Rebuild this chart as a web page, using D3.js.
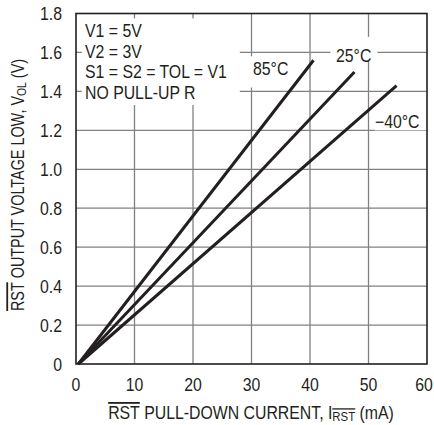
<!DOCTYPE html>
<html>
<head>
<meta charset="utf-8">
<script src="https://cdn.jsdelivr.net/npm/d3@7"></script>
<style>
  body { margin: 0; background: #fff; }
  text { font-family: "Liberation Sans", Arial, sans-serif; fill: #231f20; }
</style>
</head>
<body>
<svg id="chart" width="434" height="425"></svg>
<script>
// curves: straight lines from near origin to end point
const temps = ["85°C", "25°C", "\u221240°C"];
const startCurrent = [0.4, 0.4, 0.4];
const endCurrent = [40.6, 47.6, 54.8];
const endVoltage = [1.56, 1.50, 1.43];

const xTicks = [0, 10, 20, 30, 40, 50, 60];
const yTicks = [0, 0.2, 0.4, 0.6, 0.8, 1.0, 1.2, 1.4, 1.6, 1.8];
const yTickLabels = ["0", "0.2", "0.4", "0.6", "0.8", "1.0", "1.2", "1.4", "1.6", "1.8"];
const notes = ["V1 = 5V", "V2 = 3V", "S1 = S2 = TOL = V1", "NO PULL-UP R"];

const svg = d3.select("#chart");
const x = d3.scaleLinear().domain([0, 60]).range([76, 427]);
const y = d3.scaleLinear().domain([0, 1.8]).range([364, 13.5]);
const squeeze = 0.88; // font in the original is condensed

// grid
svg.append("g").selectAll("line").data(xTicks.slice(1, -1)).join("line")
  .attr("x1", d => x(d)).attr("x2", d => x(d))
  .attr("y1", y(0)).attr("y2", y(1.8))
  .attr("stroke", "#808080").attr("stroke-width", 1.3);
svg.append("g").selectAll("line").data(yTicks.slice(1, -1)).join("line")
  .attr("x1", x(0)).attr("x2", x(60))
  .attr("y1", d => y(d)).attr("y2", d => y(d))
  .attr("stroke", "#808080").attr("stroke-width", 1.3);

// white boxes behind the annotations
const boxes = [
  [1.0, 28, 1.33, 1.775],
  [29.3, 36.6, 1.42, 1.58],
  [43.5, 51.5, 1.56, 1.68],
  [51, 60, 1.2, 1.32]
];
svg.append("g").selectAll("rect").data(boxes).join("rect")
  .attr("x", d => x(d[0])).attr("width", d => x(d[1]) - x(d[0]))
  .attr("y", d => y(d[3])).attr("height", d => y(d[2]) - y(d[3]))
  .attr("fill", "#fff");

// frame
svg.append("rect")
  .attr("x", x(0)).attr("y", y(1.8))
  .attr("width", x(60) - x(0)).attr("height", y(0) - y(1.8))
  .attr("fill", "none").attr("stroke", "#231f20").attr("stroke-width", 1.6);

// curves
const line = d3.line().x(d => x(d[0])).y(d => y(d[1]));
svg.append("g").selectAll("path").data(temps).join("path")
  .attr("d", (d, i) => line([[startCurrent[i], 0], [endCurrent[i], endVoltage[i]]]))
  .attr("fill", "none").attr("stroke", "#231f20").attr("stroke-width", 3);

// curve labels
const labelPos = [[30.26, 1.484], [44.44, 1.551], [51.1, 1.212]];
svg.append("g").selectAll("text").data(temps).join("text")
  .attr("transform", (d, i) => `translate(${x(labelPos[i][0])},${y(labelPos[i][1])}) scale(${squeeze},1)`)
  .attr("font-size", 18).text(d => d);

// notes
svg.append("g").selectAll("text").data(notes).join("text")
  .attr("transform", (d, i) => `translate(85,${37 + i * 20.7}) scale(${squeeze},1)`)
  .attr("font-size", 18).text(d => d);

// axes tick labels
svg.append("g").selectAll("text").data(xTicks).join("text")
  .attr("transform", (d, i) => `translate(${x(d) - (i === xTicks.length - 1 ? 3 : 0)},391) scale(${squeeze},1)`)
  .attr("text-anchor", "middle").attr("font-size", 18).text(d => d);
svg.append("g").selectAll("text").data(yTicks).join("text")
  .attr("transform", d => `translate(62,${y(d) + 6.5}) scale(${squeeze},1)`)
  .attr("text-anchor", "end").attr("font-size", 18).text((d, i) => yTickLabels[i]);

// axis titles
const xt = svg.append("text").attr("transform", `translate(251,419) scale(${squeeze},1)`)
  .attr("text-anchor", "middle").attr("font-size", 18);
xt.append("tspan").style("text-decoration", "overline").text("RST");
xt.append("tspan").text(" PULL-DOWN CURRENT, I");
xt.append("tspan").attr("font-size", 13).attr("dy", 2).style("text-decoration", "overline").text("RST");
xt.append("tspan").attr("dy", -2).text(" (mA)");

const yt = svg.append("text").attr("transform", "translate(24,185) rotate(-90) scale(0.8,1)")
  .attr("text-anchor", "middle").attr("font-size", 18);
yt.append("tspan").style("text-decoration", "overline").text("RST");
yt.append("tspan").text(" OUTPUT VOLTAGE LOW, V");
yt.append("tspan").attr("font-size", 13).attr("dy", 2).text("OL");
yt.append("tspan").attr("dy", -2).text(" (V)");
</script>
</body>
</html>
